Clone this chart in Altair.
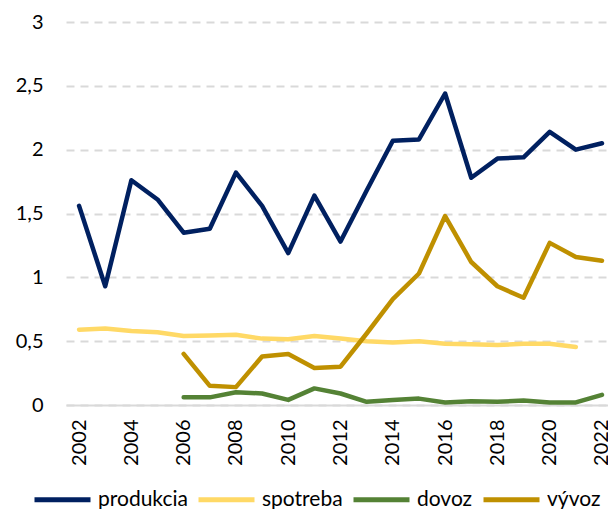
import altair as alt
import pandas as pd

years = list(range(2002, 2023))
produkcia = [1.56, 0.93, 1.76, 1.61, 1.35, 1.38, 1.82, 1.56, 1.19, 1.64, 1.28, 1.68, 2.07, 2.08, 2.44, 1.78, 1.93, 1.94, 2.14, 2.00, 2.05]
spotreba = [0.59, 0.60, 0.58, 0.57, 0.54, 0.545, 0.55, 0.52, 0.515, 0.54, 0.52, 0.50, 0.49, 0.50, 0.48, 0.475, 0.47, 0.48, 0.48, 0.455, None]
dovoz = [None, None, None, None, 0.06, 0.06, 0.10, 0.09, 0.04, 0.13, 0.09, 0.025, 0.04, 0.05, 0.02, 0.03, 0.025, 0.035, 0.02, 0.02, 0.08]
vyvoz = [None, None, None, None, 0.40, 0.15, 0.14, 0.38, 0.40, 0.29, 0.30, 0.56, 0.83, 1.03, 1.48, 1.12, 0.93, 0.84, 1.27, 1.16, 1.13]

series_names = ["produkcia", "spotreba", "dovoz", "vývoz"]
colors = ["#002060", "#FFD966", "#548235", "#BF9000"]
x_ticks = list(range(2002, 2023, 2))
y_ticks = [0, 0.5, 1, 1.5, 2, 2.5, 3]

rows = []
for name, vals in zip(series_names, [produkcia, spotreba, dovoz, vyvoz]):
    for yr, v in zip(years, vals):
        if v is not None:
            rows.append({"rok": yr, "séria": name, "hodnota": v, "poradie": series_names.index(name)})
df = pd.DataFrame(rows)

FONT = "Lato"

chart = alt.Chart(df).mark_line(strokeWidth=4.5, strokeCap="round", strokeJoin="round").encode(
    x=alt.X("rok:Q", scale=alt.Scale(domain=[2001.5, 2022.23], nice=False, zero=False),
            axis=alt.Axis(values=x_ticks, format="d", labelAngle=-90, labelAlign="right", labelBaseline="middle",
                          grid=False, ticks=False, domain=True, domainColor="#D9D9D9", domainWidth=2,
                          labelFontSize=20, labelColor="#000000", labelFont=FONT, labelPadding=14, title=None)),
    y=alt.Y("hodnota:Q", scale=alt.Scale(domain=[0, 3], nice=False),
            axis=alt.Axis(values=y_ticks, labelExpr="replace(toString(datum.value), '.', ',')",
                          grid=True, gridDash=[8, 6], gridColor="#D9D9D9", gridWidth=2,
                          domain=False, ticks=False, labelFontSize=20, labelColor="#000000", labelFont=FONT,
                          labelPadding=23, title=None)),
    color=alt.Color("séria:N", scale=alt.Scale(domain=series_names, range=colors),
                    legend=alt.Legend(orient="none", legendX=-34, legendY=447, direction="horizontal",
                                      title=None, symbolType="stroke", symbolStrokeWidth=5, symbolSize=3136,
                                      labelFontSize=21, labelFont=FONT, labelColor="#000000",
                                      columnPadding=0, labelOffset=5, padding=0)),
    order=alt.Order("poradie:Q"),
    detail="séria:N",
).properties(
    width=542, height=383, autosize="none",
    padding={"left": 58, "top": 14, "right": 0, "bottom": 104}
).configure_view(stroke=None)

chart.save("out.html", embed_options={"renderer": "svg", "actions": False})
